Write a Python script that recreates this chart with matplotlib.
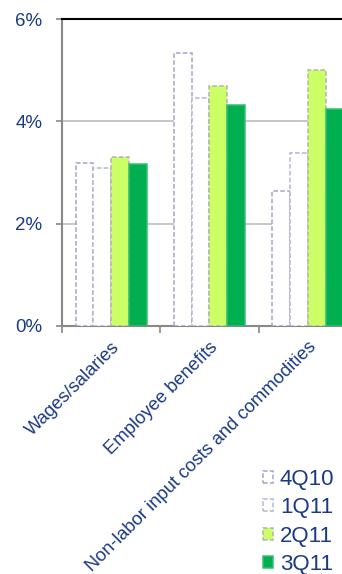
import numpy as np
import matplotlib
matplotlib.use("Agg")
import matplotlib.pyplot as plt

# Data (percent)
categories = ["Wages/salaries", "Employee benefits",
              "Non-labor input costs and commodities"]
quarters = ["4Q10", "1Q11", "2Q11", "3Q11"]
q4_10 = [3.18, 5.34, 2.63]
q1_11 = [3.08, 4.45, 3.38]
q2_11 = [3.30, 4.69, 5.00]
q3_11 = [3.16, 4.32, 4.24]
yticks = [0, 2, 4, 6]

plt.rcParams['font.family'] = ['Liberation Sans', 'DejaVu Sans']
text_color = '#1b3a85'

fig = plt.figure(figsize=(3.42, 5.74), dpi=100)
ax = fig.add_axes([62 / 342, 1 - 326 / 574, 295 / 342, 307 / 574])

x = np.arange(len(categories))
w = 0.18
series = [q4_10, q1_11, q2_11, q3_11]
styles = [
    dict(facecolor='white', edgecolor='#a3a6c6', linestyle=(0, (3, 1.5))),
    dict(facecolor='white', edgecolor='#b4b6d0', linestyle=(0, (3, 1.5))),
    dict(facecolor='#ccff66', edgecolor='#b3b3b3', linestyle=(0, (3, 1.5))),
    dict(facecolor='#00b050', edgecolor='#33c070', linestyle='-'),
]
for i, (vals, st) in enumerate(zip(series, styles)):
    ax.bar(x + (i - 1.5) * w, vals, width=w, linewidth=1.1,
           label=quarters[i], zorder=3, **st)

ax.set_xlim(-0.5, 2.5)
ax.set_ylim(0, 6)
ax.set_yticks(yticks)
ax.set_yticklabels([f"{t}%" for t in yticks], fontsize=13.5, color=text_color)
ax.yaxis.grid(True, color='#bdbdbd', linewidth=1.2, zorder=0)
ax.set_axisbelow(True)

ax.set_xticks(x)
ax.set_xticklabels(categories, rotation=45, ha='right',
                   rotation_mode='anchor', fontsize=13.2, color=text_color)
ax.tick_params(axis='x', length=0, pad=9)
ax.set_xticks(x - 0.5, minor=True)
ax.tick_params(axis='x', which='minor', length=5, color='#888888', width=1.2)
ax.tick_params(axis='y', length=4, color='#888888', width=1.2, pad=10)

ax.spines['top'].set_color('black')
ax.spines['top'].set_linewidth(1.5)
ax.spines['right'].set_visible(False)
ax.spines['left'].set_color('#888888')
ax.spines['left'].set_linewidth(1.5)
ax.spines['bottom'].set_color('#888888')
ax.spines['bottom'].set_linewidth(1.5)

handles, labels = ax.get_legend_handles_labels()
leg = fig.legend(handles, labels, loc='lower left',
                 bbox_to_anchor=(252 / 342, -12 / 574), frameon=False,
                 fontsize=16, handlelength=0.45, handleheight=0.45,
                 handletextpad=0.3, labelspacing=0.33, borderpad=0)
for t in leg.get_texts():
    t.set_color(text_color)

fig.savefig("out.png", dpi=100)
